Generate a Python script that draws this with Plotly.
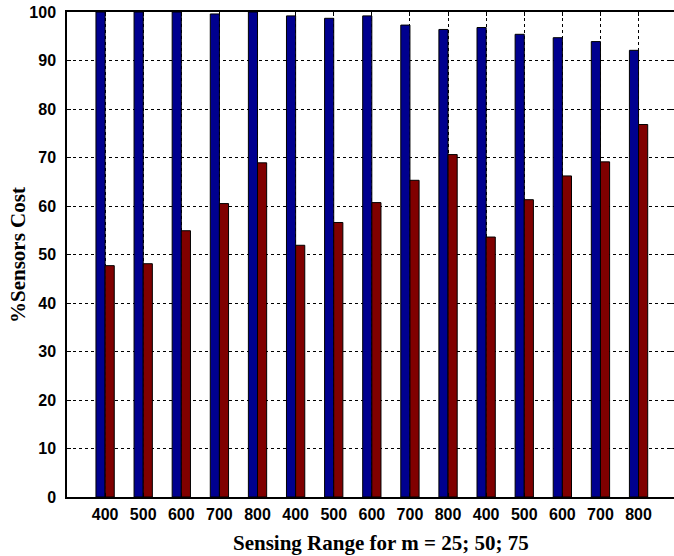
import plotly.graph_objects as go

categories = ["400", "500", "600", "700", "800", "400", "500", "600", "700", "800",
              "400", "500", "600", "700", "800"]
blue_values = [100, 100, 100, 99.6, 100, 99.2, 98.7, 99.2, 97.3, 96.4, 96.8, 95.4, 94.7, 93.9, 92.1]
red_values = [47.7, 48.1, 54.9, 60.5, 68.9, 51.9, 56.6, 60.7, 65.3, 70.6, 53.6, 61.3, 66.2, 69.1, 76.8]
y_ticks = [0, 10, 20, 30, 40, 50, 60, 70, 80, 90, 100]
x_title = "Sensing Range for m = 25; 50; 75"
y_title = "%Sensors Cost"

positions = list(range(1, len(categories) + 1))

fig = go.Figure()
fig.add_trace(go.Bar(x=positions, y=blue_values, marker=dict(color="#00008F", line=dict(color="black", width=1)),
                     width=0.24, offset=-0.24, showlegend=False))
fig.add_trace(go.Bar(x=positions, y=red_values, marker=dict(color="#800000", line=dict(color="black", width=1)),
                     width=0.24, offset=0, showlegend=False))

plot_h = 556 - 12 - 59
plot_w = 674 - 67

fig.update_layout(
    width=674, height=556,
    margin=dict(l=67, r=0, t=12, b=59),
    plot_bgcolor="white", paper_bgcolor="white",
    barmode="overlay",
    xaxis=dict(
        range=[0, 15.93], tickmode="array", tickvals=positions, ticktext=categories,
        showgrid=True, gridcolor="black", griddash="3px,3px", gridwidth=1,
        showline=True, linecolor="black", linewidth=1.5, mirror="ticks",
        ticks="inside", ticklen=4, tickcolor="black",
        tickfont=dict(family="Liberation Sans", size=16, color="black", weight="bold"),
        ticklabelstandoff=2,
        zeroline=False, automargin=False,
    ),
    yaxis=dict(
        range=[0, 100], tickmode="array", tickvals=y_ticks,
        showgrid=True, gridcolor="black", griddash="3px,3px", gridwidth=1,
        showline=True, linecolor="black", linewidth=1.5, mirror="ticks",
        ticks="inside", ticklen=4, tickcolor="black",
        tickfont=dict(family="Liberation Sans", size=16, color="black", weight="bold"),
        ticklabelstandoff=6,
        zeroline=False, automargin=False,
    ),
    annotations=[
        dict(text=x_title, xref="paper", yref="paper",
             x=(381 - 67) / plot_w, y=-(543 - 497) / plot_h,
             xanchor="center", yanchor="middle", showarrow=False,
             font=dict(family="Liberation Serif", size=21, color="black", weight="bold")),
        dict(text=y_title, xref="paper", yref="paper",
             x=(18 - 67) / plot_w, y=(497 - 255) / plot_h, textangle=-90,
             xanchor="center", yanchor="middle", showarrow=False,
             font=dict(family="Liberation Serif", size=21, color="black", weight="bold")),
    ],
)

fig.write_html("out.html")
